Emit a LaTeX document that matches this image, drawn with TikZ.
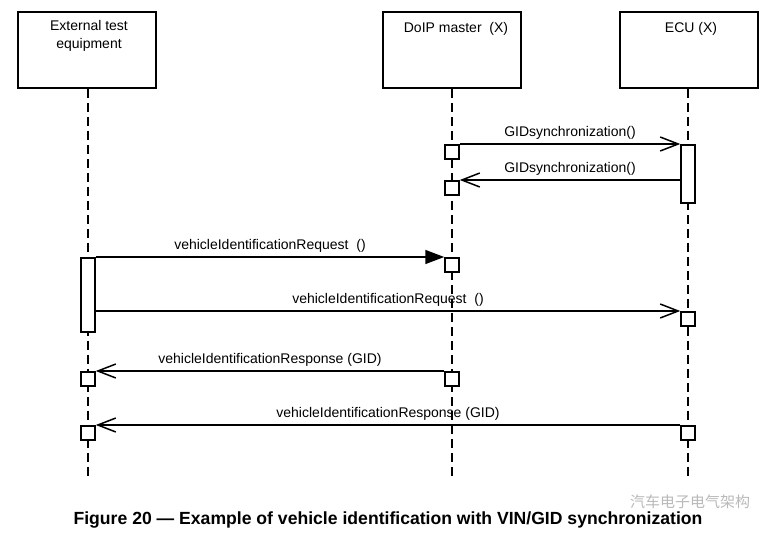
\documentclass[tikz,border=0pt]{standalone}
\usepackage{fontspec}
\setmainfont{Liberation Sans}
\newfontfamily\cjk{Noto Sans CJK SC}
\usetikzlibrary{arrows.meta}

\begin{document}
\begin{tikzpicture}[x=1pt,y=-1pt,line width=1.5pt,
    party/.style={draw,minimum width=138pt,minimum height=76pt,inner sep=0pt},
    title/.style={anchor=north,align=center,inner sep=0pt,font=\fontsize{14}{18}\selectfont},
    life/.style={line width=1.5pt,dash pattern=on 9pt off 5pt},
    act/.style={draw,fill=white,anchor=north,minimum width=14pt,inner sep=0pt},
    msg/.style={-{Straight Barb[length=18pt,width=14pt]}},
    call/.style={-{Triangle[length=19pt,width=14pt]}},
    lbl/.style={above=2.5pt,inner sep=1pt,font=\fontsize{14}{16}\selectfont}]
    \useasboundingbox (0,0) rectangle (777,541);

    % parties
    \node[party] (ext) at (87,50) {};
    \node[party] (doip) at (452,50) {};
    \node[party] (ecu) at (689,50) {};
    \node[title] (ext title) at (89,20) {External test\\equipment};
    \node[title] (doip title) at (456,22) {DoIP master~~(X)};
    \node[title] (ecu title) at (691,22) {ECU (X)};

    % lifelines
    \coordinate (ext end) at (88,478);
    \coordinate (doip end) at (452,478);
    \coordinate (ecu end) at (688,478);
    \draw[life] (ext.south -| ext end) -- (ext end);
    \draw[life] (doip.south -| doip end) -- (doip end);
    \draw[life] (ecu.south -| ecu end) -- (ecu end);

    % activations
    \node[act,minimum height=58pt] (ecu a) at (688,144) {};
    \node[act,minimum height=14pt] (doip a) at (452,144) {};
    \node[act,minimum height=14pt] (doip b) at (452,180) {};
    \node[act,minimum height=74pt] (ext a) at (88,257) {};
    \node[act,minimum height=14pt] (doip c) at (452,257) {};
    \node[act,minimum height=14pt] (ecu b) at (688,311) {};
    \node[act,minimum height=14pt] (doip d) at (452,371) {};
    \node[act,minimum height=14pt] (ext b) at (88,371) {};
    \node[act,minimum height=14pt] (ecu c) at (688,425) {};
    \node[act,minimum height=14pt] (ext c) at (88,425) {};

    % messages
    \draw[msg] (doip a.north east) -- node[lbl] {GIDsynchronization()} (ecu a.north west);
    \draw[msg] (ecu a.west |- doip b.north) -- node[lbl] {GIDsynchronization()} (doip b.north east);
    \draw[call] (ext a.north east) -- node[lbl] {vehicleIdentificationRequest~~()} (doip c.north west);
    \draw[msg] (ext a.east |- ecu b.north) -- node[lbl] {vehicleIdentificationRequest~~()} (ecu b.north west);
    \draw[msg] (doip d.north west) -- node[lbl] {vehicleIdentificationResponse (GID)} (ext b.north east);
    \draw[msg] (ecu c.north west) -- node[lbl] {vehicleIdentificationResponse (GID)} (ext c.north east);

    % caption
    \node[text=gray!55,font=\cjk\fontsize{15}{15}\selectfont] (mark) at (690,502) {汽车电子电气架构};
    \node[font=\bfseries\fontsize{17.6}{20}\selectfont] (caption) at (388,520)
        {Figure 20 — Example of vehicle identification with VIN/GID synchronization};
\end{tikzpicture}
\end{document}
